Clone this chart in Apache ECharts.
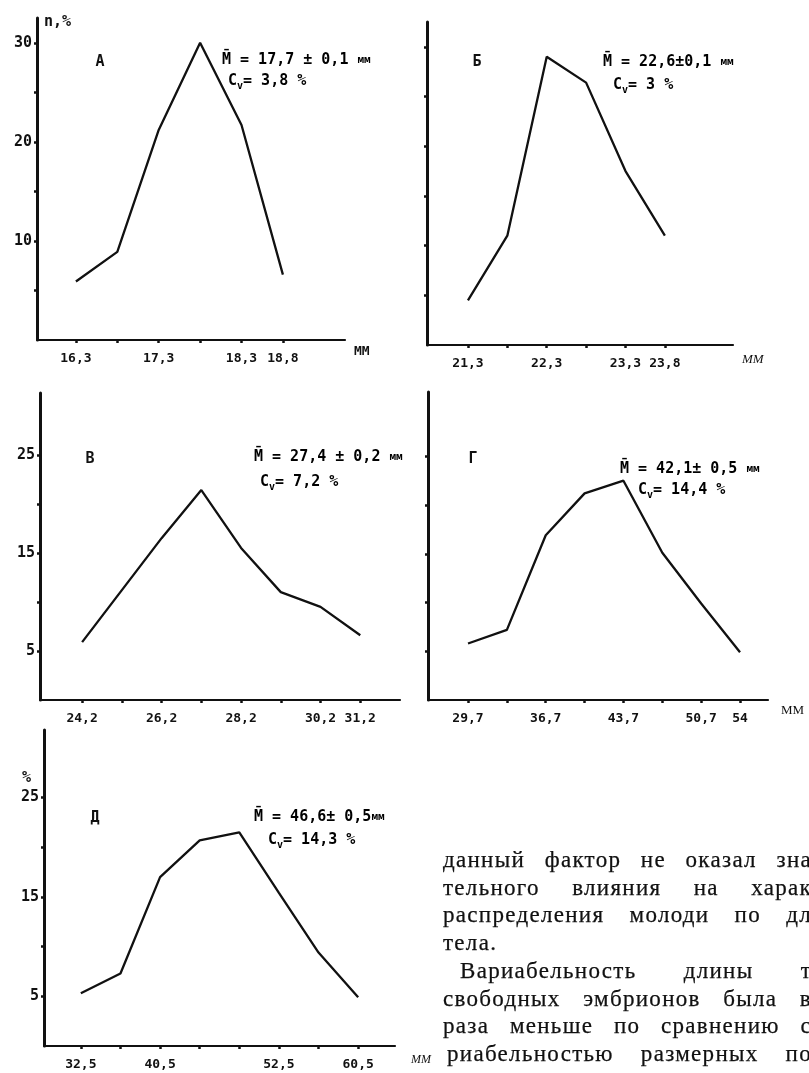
<!DOCTYPE html>
<html><head><meta charset="utf-8">
<script src="https://cdn.jsdelivr.net/npm/echarts@6/dist/echarts.min.js"></script>
<style>
html,body{margin:0;padding:0;background:#fff;width:809px;height:1073px;overflow:hidden;position:relative}
#chart{position:absolute;left:0;top:0;width:809px;height:1073px}
.ln{position:absolute;font-family:"Liberation Serif",serif;font-size:23px;line-height:26px;color:#111;white-space:pre;letter-spacing:1.3px;-webkit-text-stroke:0.25px #111}
</style></head><body>
<div id="chart"></div>
<div id="txt"></div>
<script>
// ---- data ----
const ticksA = ['16,3','','17,3','','18,3','18,8'];
const valuesA = [5.9, 8.9, 21.2, 30, 21.7, 6.6];
const yTicksA = [5,10,15,20,25,30];
const yLabelsA = [10,20,30];

const ticksB = ['21,3','','22,3','','23,3','23,8'];
const valuesB = [4.5, 11, 29, 26.4, 17.5, 11];
const yTicksB = [5,10,15,20,25,30];
const yLabelsB = [];

const ticksV = ['24,2','','26,2','','28,2','','30,2','31,2'];
const valuesV = [5.9, 11.2, 16.5, 21.4, 15.5, 11, 9.5, 6.6];
const yTicksV = [5,10,15,20,25];
const yLabelsV = [5,15,25];

const ticksG = ['29,7','','36,7','','43,7','','50,7','54'];
const valuesG = [5.8, 7.2, 16.9, 21.2, 22.5, 15.1, 9.9, 4.9];
const yTicksG = [5,10,15,20,25];
const yLabelsG = [];

const ticksD = ['32,5','','40,5','','','52,5','','60,5'];
const valuesD = [5.3, 7.3, 17, 20.7, 21.5, 15.4, 9.4, 4.9];
const yTicksD = [5,10,15,20,25];
const yLabelsD = [5,15,25];

const letters = ['А','Б','В','Г','Д'];
const means = ['17,7 ± 0,1 ','22,6±0,1 ','27,4 ± 0,2 ','42,1± 0,5 ','46,6± 0,5'];
const cvs = ['3,8 %','3 %','7,2 %','14,4 %','14,3 %'];

const bodyLines = [
  'данный фактор не оказал зна',
  'тельного влияния на харак',
  'распределения молоди по дл',
  'тела.',
  'Вариабельность длины т',
  'свободных эмбрионов была в',
  'раза меньше по сравнению с',
  'риабельностью размерных по'
];

// ---- layout ----
const MONO = '"DejaVu Sans Mono","Liberation Mono",monospace';
const SERIF = '"Liberation Serif",serif';
const INK = '#111';
const panels = [
  {ticks:ticksA, values:valuesA, yTicks:yTicksA, yLabels:yLabelsA, grid:{left:37,top:18,width:308,height:322}, xMin:-0.94, xMax:6.5, yMax:32.5,
   letter:[100,62], mean:[222,60], cv:[228,81]},
  {ticks:ticksB, values:valuesB, yTicks:yTicksB, yLabels:yLabelsB, grid:{left:427,top:22,width:306,height:323}, xMin:-1.04, xMax:6.73, yMax:32.5,
   letter:[477,62], mean:[603,62], cv:[613,85]},
  {ticks:ticksV, values:valuesV, yTicks:yTicksV, yLabels:yLabelsV, grid:{left:40,top:393,width:360,height:307}, xMin:-1.06, xMax:8.0, yMax:31.3,
   letter:[90,459], mean:[254,457], cv:[260,482]},
  {ticks:ticksG, values:valuesG, yTicks:yTicksG, yLabels:yLabelsG, grid:{left:428,top:392,width:340,height:308}, xMin:-1.03, xMax:7.72, yMax:31.6,
   letter:[473,459], mean:[620,469], cv:[638,490]},
  {ticks:ticksD, values:valuesD, yTicks:yTicksD, yLabels:yLabelsD, grid:{left:44,top:730,width:351,height:316}, xMin:-0.93, xMax:7.93, yMax:31.8,
   letter:[95,818], mean:[254,817], cv:[268,840]}
];

const grids=[], xAxes=[], yAxes=[], series=[], graphic=[];
panels.forEach((p,i)=>{
  grids.push(Object.assign({containLabel:false}, p.grid));
  const idx = p.ticks.map((t,k)=>k);
  const labIdx = idx.filter(k=>p.ticks[k] !== '');
  xAxes.push({
    type:'value', gridIndex:i, min:p.xMin, max:p.xMax,
    splitLine:{show:false},
    axisLine:{onZero:false, lineStyle:{color:INK, width:2.2}},
    axisTick:{customValues:idx, length:3, lineStyle:{color:INK, width:2.5}},
    axisLabel:{customValues:labIdx, formatter:v=>p.ticks[Math.round(v)] || '', color:INK,
      fontFamily:MONO, fontWeight:'bold', fontSize:13, margin:12}
  });
  yAxes.push({
    type:'value', gridIndex:i, min:0, max:p.yMax,
    splitLine:{show:false},
    axisLine:{onZero:false, lineStyle:{color:INK, width:3}},
    axisTick:{customValues:p.yTicks, length:3, lineStyle:{color:INK, width:2.5}},
    axisLabel:{customValues:p.yLabels, show:p.yLabels.length>0, color:INK,
      fontFamily:MONO, fontWeight:'bold', fontSize:15, margin:5}
  });
  series.push({
    type:'line', xAxisIndex:i, yAxisIndex:i,
    data:p.values.map((v,k)=>[k,v]),
    showSymbol:false, symbol:'none', silent:true,
    lineStyle:{color:INK, width:2.3}
  });
  graphic.push({type:'text', x:p.letter[0], y:p.letter[1], style:{text:letters[i], fill:INK,
    font:'bold 15px '+MONO, align:'center', verticalAlign:'middle'}});
  graphic.push({type:'text', x:p.mean[0], y:p.mean[1], style:{
    text:'{t|M\u0304 = '+means[i]+'}{s|мм}', verticalAlign:'middle',
    rich:{t:{fontFamily:MONO, fontWeight:'bold', fontSize:15, lineHeight:20, color:INK},
          s:{fontFamily:MONO, fontWeight:'bold', fontSize:11, lineHeight:20, color:INK}}}});
  graphic.push({type:'text', x:p.cv[0], y:p.cv[1], style:{
    text:'{t|C}{u|v}{t|= '+cvs[i]+'}', verticalAlign:'middle',
    rich:{t:{fontFamily:MONO, fontWeight:'bold', fontSize:15, lineHeight:20, color:INK},
          u:{fontFamily:MONO, fontWeight:'bold', fontSize:10, lineHeight:12, verticalAlign:'bottom', color:INK}}}});
});
// axis names
graphic.push({type:'text', x:44, y:22, style:{text:'n,%', fill:INK, font:'bold 15px '+MONO, verticalAlign:'middle'}});
graphic.push({type:'text', x:22, y:778, style:{text:'%', fill:INK, font:'bold 15px '+MONO, verticalAlign:'middle'}});
graphic.push({type:'text', x:354, y:352, style:{text:'ММ', fill:INK, font:'bold 13px '+MONO, verticalAlign:'middle'}});
graphic.push({type:'text', x:742, y:360, style:{text:'ММ', fill:INK, font:'italic 13px '+SERIF, verticalAlign:'middle'}});
graphic.push({type:'text', x:781, y:711, style:{text:'ММ', fill:INK, font:'13px '+SERIF, verticalAlign:'middle'}});
graphic.push({type:'text', x:411, y:1060, style:{text:'ММ', fill:INK, font:'italic 12px '+SERIF, verticalAlign:'middle'}});

const chart = echarts.init(document.getElementById('chart'));
chart.setOption({
  animation:false, backgroundColor:'#fff',
  grid:grids, xAxis:xAxes, yAxis:yAxes, series:series, graphic:graphic
});

// body text (justified lines, clipped at page edge)
const lefts = [443,443,443,443,460,443,443,447];
const justify = [1,1,1,0,1,1,1,1];
const txt = document.getElementById('txt');
bodyLines.forEach((s,i)=>{
  const d = document.createElement('span');
  d.className='ln'; d.textContent=s;
  d.style.left = lefts[i]+'px';
  d.style.top = (860 + 27.7*i - 13)+'px';
  txt.appendChild(d);
  if (justify[i]) {
    const w = d.getBoundingClientRect().width;
    const gaps = (s.match(/ /g)||[]).length;
    const target = 812 - lefts[i];
    if (gaps>0 && w<target) d.style.wordSpacing = ((target-w)/gaps)+'px';
  }
});
</script>
</body></html>
